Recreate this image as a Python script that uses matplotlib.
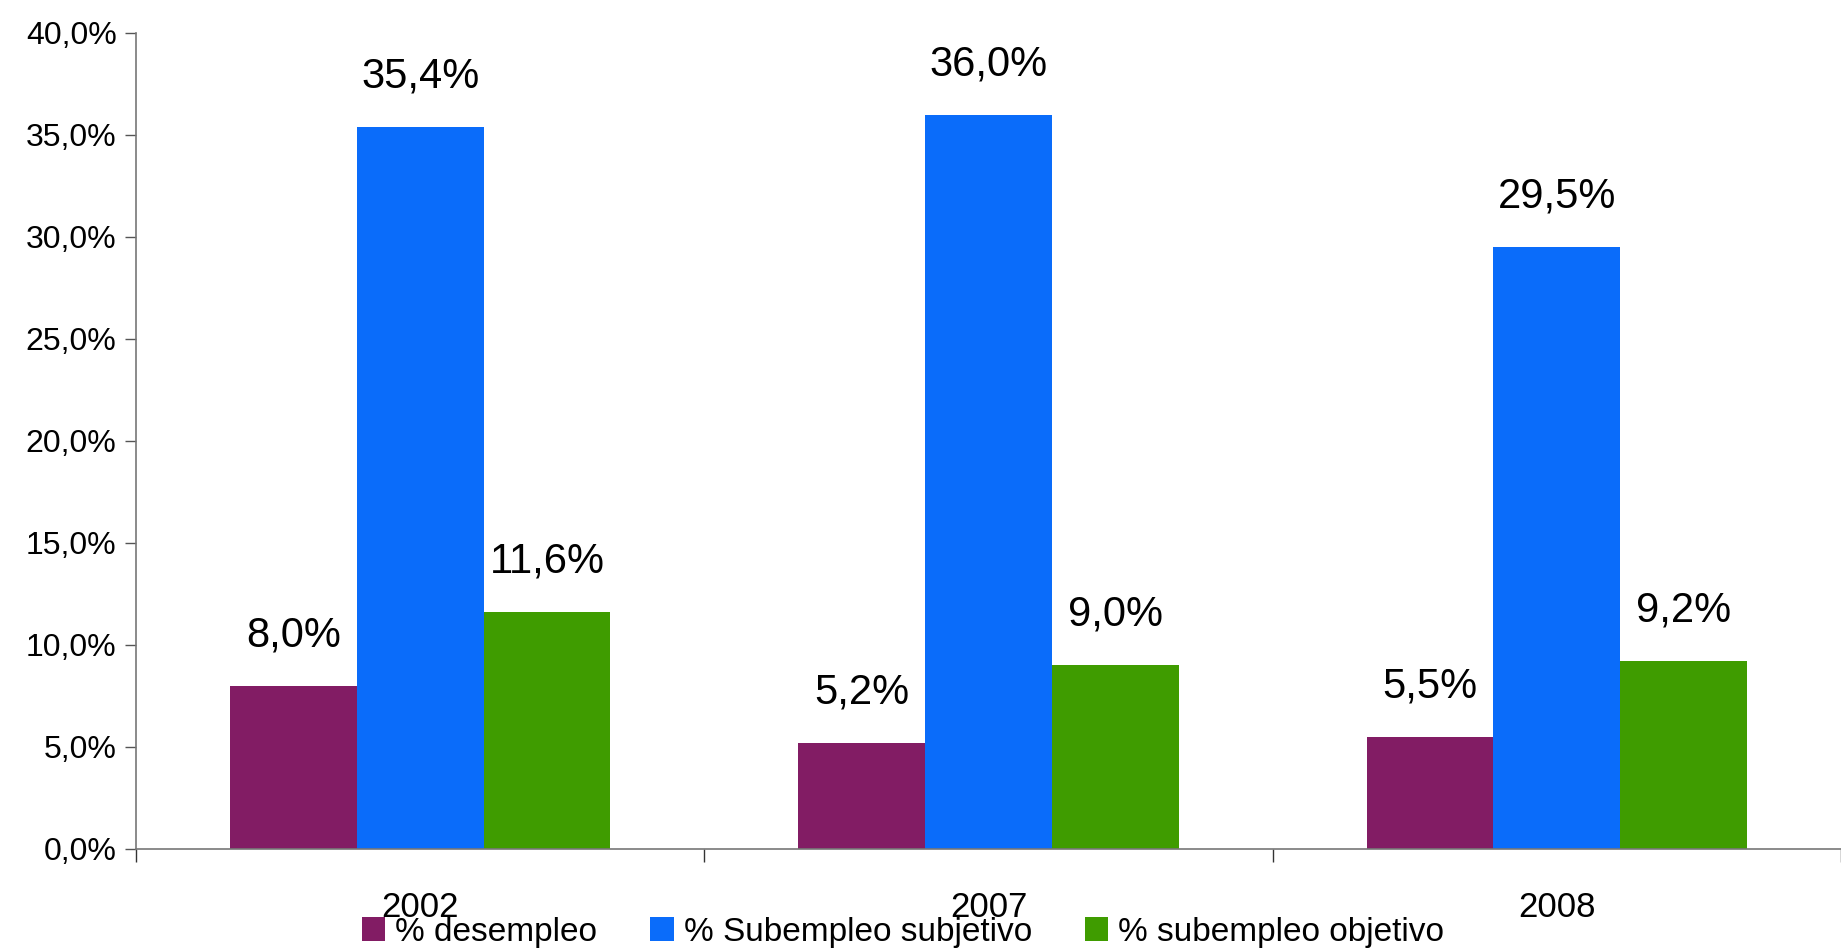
import matplotlib.pyplot as plt
import numpy as np
from matplotlib.ticker import FuncFormatter

plt.rcParams["font.family"] = ["Liberation Sans Narrow", "DejaVu Sans Condensed", "Liberation Sans", "DejaVu Sans"]

years = ["2002", "2007", "2008"]
series = ["% desempleo", "% Subempleo subjetivo", "% subempleo objetivo"]
desempleo = [8.0, 5.2, 5.5]
subjetivo = [35.4, 36.0, 29.5]
objetivo = [11.6, 9.0, 9.2]
colors = ["#821c64", "#0a6cfa", "#3f9c00"]


def pct(v, pos=None):
    return f"{v:.1f}%".replace(".", ",")


def main():
    W, H = 1841, 948
    fig = plt.figure(figsize=(W / 100, H / 100), dpi=100)
    left, bottom, top = 136, 849, 33
    ax = fig.add_axes([left / W, 1 - bottom / H, 1 - left / W, (bottom - top) / H])

    x = np.arange(len(years))
    width = 0.223
    data = [desempleo, subjetivo, objetivo]
    for i, (vals, name, c) in enumerate(zip(data, series, colors)):
        bars = ax.bar(x + (i - 1) * width, vals, width, color=c, label=name)
        ax.bar_label(bars, labels=[pct(v) for v in vals], padding=22, fontsize=30)

    ax.set_xlim(-0.5, 2.5)
    ax.set_ylim(0, 40)
    ax.set_yticks(np.arange(0, 41, 5))
    ax.yaxis.set_major_formatter(FuncFormatter(pct))
    ax.tick_params(axis="y", labelsize=23, length=8, width=1, color="#555555", pad=6)

    ax.set_xticks([-0.5, 0.5, 1.5, 2.5])
    ax.set_xticklabels([])
    ax.set_xticks(x, minor=True)
    ax.set_xticklabels(years, minor=True)
    ax.tick_params(axis="x", which="major", length=9, width=1, color="#333333")
    ax.tick_params(axis="x", which="minor", length=0, labelsize=25, pad=30)

    for s in ["top", "right"]:
        ax.spines[s].set_visible(False)
    for s in ["left", "bottom"]:
        ax.spines[s].set_color("#777777")
        ax.spines[s].set_linewidth(1.2)

    fig.legend(loc="center", bbox_to_anchor=(903 / W, 1 - 932 / H), ncol=3,
               frameon=False, fontsize=24, handlelength=0.7, handleheight=0.7,
               handletextpad=0.3, columnspacing=1.6, borderpad=0)

    fig.savefig("out.png", dpi=100)


if __name__ == "__main__":
    main()
